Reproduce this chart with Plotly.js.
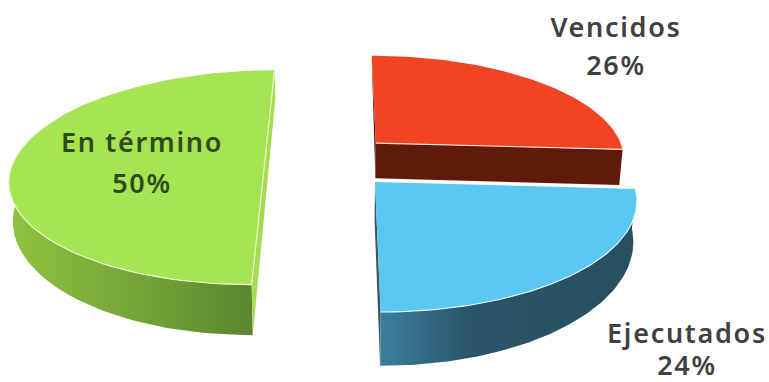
<!DOCTYPE html>
<html>
<head>
<meta charset="utf-8">
<script src="https://cdn.plot.ly/plotly-3.0.1.min.js"></script>
<style>html,body{margin:0;padding:0;background:#fff;overflow:hidden}#chart{width:769px;height:382px}#chart text{letter-spacing:1.7px}</style>
</head>
<body>
<div id="chart"></div>
<script>
// Share of cases by status
const categories = ['Vencidos', 'Ejecutados', 'En término'];
const shares = [26, 24, 50];

// Slice colours and pull-out offsets, in pie radii
const pullX = [0.135, 0.125, -0.31];
const pullY = [0.185, -0.185, 0];
const topColors = ['#f04423', '#5ac8f0', '#a4e551'];
const sideScales = [
  [[0, '#5f1a0c'], [1, '#5f1a0c']],
  [[0, '#3a7f9e'], [0.35, '#2a5468'], [1, '#28505f']],
  [[0, '#8fc440'], [1, '#5c8630']]
];
const cutColors = ['#4a150a', '#3d5560', '#a6dc50'];
const labelColors = ['#404040', '#404040', '#2f4a1c'];

// Label anchors: name and percentage rows
const nameX = [616, 687, 142];
const nameY = [30, 336, 145];
const pctY = [68, 368, 186];

// Perspective camera for the tilted pie
const cam = {cx: 342.7, cy: 162, rx: 251.4, ry: 105, k: 0.144, depth: 37, conv: 0.012};

function project(X, Y, lower) {
  const w = 1 + cam.k * Y;
  let sx = cam.cx + cam.rx * X / w;
  let sy = cam.cy - cam.ry * Y / w;
  if (lower) {
    sy += cam.depth / (w * w);
    sx = cam.cx + (sx - cam.cx) * (1 - cam.conv);
  }
  return [sx, sy];
}

function sliceGeometry(startShare, share, ox, oy) {
  const a0 = startShare / 100 * 2 * Math.PI;
  const a1 = (startShare + share) / 100 * 2 * Math.PI;
  const arc = [];
  const steps = 90;
  for (let i = 0; i <= steps; i++) {
    const a = a0 + (a1 - a0) * i / steps;
    arc.push([ox + Math.sin(a), oy + Math.cos(a)]);
  }
  return {apex: [ox, oy], arc};
}

function poly(points, lowerFlags) {
  const xs = [], ys = [];
  points.forEach((p, i) => {
    const s = project(p[0], p[1], lowerFlags ? lowerFlags[i] : false);
    xs.push(s[0]); ys.push(s[1]);
  });
  return {x: xs, y: ys};
}

function fillTrace(pts, color, gradient) {
  const t = {type: 'scatter', mode: 'lines', x: pts.x, y: pts.y, fill: 'toself',
    line: {width: 0}, hoverinfo: 'skip', showlegend: false, fillcolor: color};
  if (gradient) {
    t.fillgradient = {type: 'horizontal', colorscale: gradient};
  }
  return t;
}

function edgeTrace(pts, color) {
  return {type: 'scatter', mode: 'lines', x: pts.x, y: pts.y,
    line: {color: color, width: 1.1}, hoverinfo: 'skip', showlegend: false};
}

function rimPoints(arc) {
  const rim = arc.concat(arc.slice().reverse());
  const flags = arc.map(() => false).concat(arc.map(() => true));
  return poly(rim, flags);
}

const traces = [];
let running = 0;
const slices = categories.map((c, i) => {
  const g = sliceGeometry(running, shares[i], pullX[i], pullY[i]);
  running += shares[i];
  return g;
});

// Green half first, then the two pieces on the right from back to front
[2, 0, 1].forEach(i => {
  const g = slices[i];
  const first = g.arc[0], last = g.arc[g.arc.length - 1];
  if (i === 0) {
    // Red: left cut and front cut
    traces.push(fillTrace(poly([first, g.apex, g.apex], [false, false, true]), cutColors[i]));
    traces.push(fillTrace(poly([g.apex, last, last, g.apex], [false, false, true, true]), null, sideScales[i]));
    traces.push(fillTrace(poly([g.apex].concat(g.arc)), topColors[i]));
    traces.push(edgeTrace(poly([g.apex, last]), '#ffe6d8'));
  } else if (i === 1) {
    // Blue: left cut and rim
    traces.push(fillTrace(poly([g.apex, last, last, g.apex], [false, false, true, true]), cutColors[i]));
    traces.push(fillTrace(rimPoints(g.arc), null, sideScales[i]));
    traces.push(fillTrace(poly([g.apex].concat(g.arc)), topColors[i]));
    traces.push(edgeTrace(poly(g.arc), '#e8f8ff'));
  } else {
    // Green: rim on the near side, then the flat diameter cut
    traces.push(fillTrace(rimPoints(g.arc.slice(0, 56)), null, sideScales[i]));
    traces.push(fillTrace(poly([first, last, last, first], [false, false, true, true]), cutColors[i]));
    traces.push(fillTrace(poly([g.apex].concat(g.arc)), topColors[i]));
    traces.push(edgeTrace(poly(g.arc.slice(0, 60)), '#f0fbd8'));
    traces.push(edgeTrace(poly([first, last]), '#f0fbd8'));
  }
});

// Labels: category name above its percentage
traces.push({
  type: 'scatter', mode: 'text', cliponaxis: false,
  x: nameX.concat(nameX), y: nameY.concat(pctY),
  text: categories.concat(shares.map(v => v + '%')),
  textposition: 'middle center',
  textfont: {family: '"Noto Sans", "Open Sans", sans-serif', size: 27, weight: 600,
    color: labelColors.concat(labelColors)},
  hoverinfo: 'skip', showlegend: false
});

const layout = {
  width: 769, height: 382,
  margin: {l: 0, r: 0, t: 0, b: 0},
  paper_bgcolor: '#ffffff', plot_bgcolor: '#ffffff',
  xaxis: {range: [0, 769], visible: false, fixedrange: true},
  yaxis: {range: [382, 0], visible: false, fixedrange: true},
  showlegend: false
};

Plotly.newPlot('chart', traces, layout, {displayModeBar: false, staticPlot: true});
</script>
</body>
</html>
